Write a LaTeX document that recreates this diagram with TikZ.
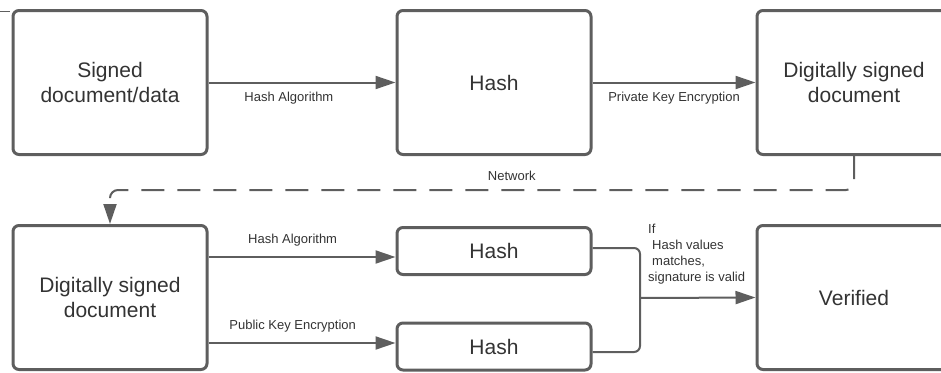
\documentclass[tikz,border=0pt]{standalone}
\usepackage{fontspec}
\setmainfont{Liberation Sans}
\usepackage{tikz}
\usetikzlibrary{arrows.meta}

\definecolor{linegray}{HTML}{5E5E5E}
\definecolor{inkgray}{HTML}{333333}

\tikzset{
  box/.style={draw=linegray, line width=3pt, rounded corners=6pt, fill=white,
    text=inkgray, align=center, inner sep=0pt, font=\fontsize{21}{25}\selectfont},
  bigbox/.style={box, minimum width=194pt, minimum height=144pt},
  slimbox/.style={box, minimum width=194pt, minimum height=47pt},
  link/.style={draw=linegray, line width=2pt},
  flow/.style={link, -{Triangle[length=20pt,width=13pt]}},
  lbl/.style={text=inkgray, font=\fontsize{13}{16}\selectfont, inner sep=0pt},
}

\begin{document}
\begin{tikzpicture}[x=1pt,y=-1pt]
\useasboundingbox (0,0) rectangle (941,372);
\clip (0,0) rectangle (941,372);

\draw[linegray, line width=1.5pt] (0,11.5) -- (10,11.5);

% signing side
\node[bigbox] (sig)  at (110,82.5) {Signed\\document/data};
\node[bigbox] (hashA) at (494,82.5) {Hash};
\node[bigbox] (digA) at (854,82.5) {Digitally signed\\document};

% verifying side
\node[bigbox]  (digB)  at (110,297.5) {Digitally signed\\document};
\node[slimbox] (hashB) at (494,251) {Hash};
\node[slimbox] (hashC) at (494,346.5) {Hash};
\node[bigbox]  (ver)   at (854,297.5) {Verified};

\draw[flow] (sig.east) -- node[lbl, below=9pt, pos=0.43] (algA) {Hash Algorithm} (hashA.west);
\draw[flow] (hashA.east) -- node[lbl, below=9pt] (privkey) {Private Key Encryption} (digA.west);

\coordinate (netturn) at (110,190);
\draw[flow, dash pattern=on 23pt off 13pt, rounded corners=8pt]
  (digA.south) |- node[lbl, above=8pt, pos=0.73] (net) {Network} (netturn) -- (digB.north);

\coordinate (inB) at ([yshift=-6pt]hashB.west);
\coordinate (inC) at ([yshift=3.5pt]hashC.west);
\draw[flow] (digB.east |- inB) -- node[lbl, above=10pt, pos=0.45] (algB) {Hash Algorithm} (inB);
\draw[flow] (digB.east |- inC) -- node[lbl, above=10pt, pos=0.45] (pubkey) {Public Key Encryption} (inC);

\coordinate (outB) at ([yshift=3pt]hashB.east);
\coordinate (outC) at ([yshift=-5.5pt]hashC.east);
\coordinate (join) at (640,298);
\draw[link, rounded corners=6pt] (outB) -- (join |- outB) -- (join |- outC) -- (outC);
\draw[flow] (join) -- (ver.west);

\node[lbl, align=left, anchor=north west] (check) at (648,223.5)
  {If\\\hspace*{4pt}Hash values\\\hspace*{4pt}matches,\\signature is valid};
\end{tikzpicture}
\end{document}
